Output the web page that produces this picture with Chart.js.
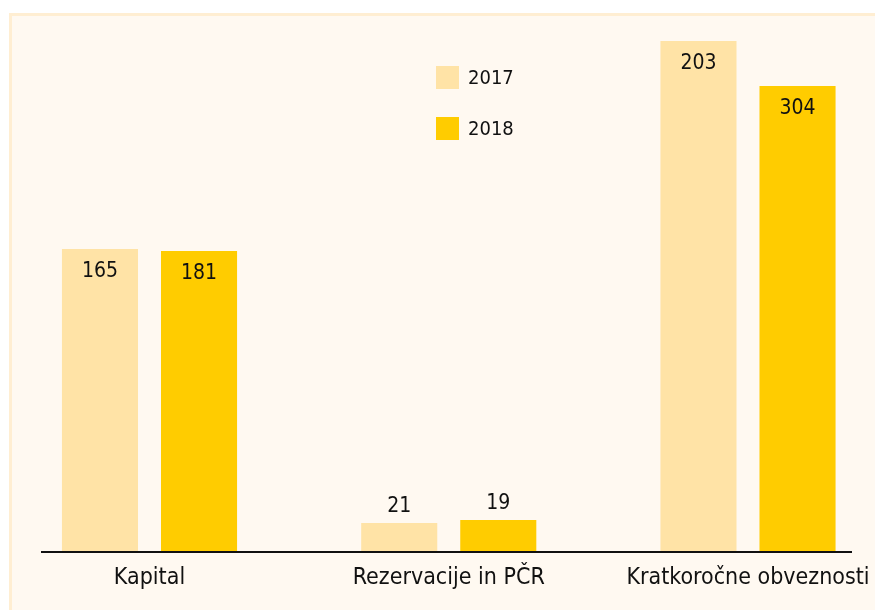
<!DOCTYPE html>
<html>
<head>
<meta charset="utf-8">
<script src="https://cdn.jsdelivr.net/npm/chart.js@4/dist/chart.umd.min.js"></script>
<style>
  body { margin: 0; background: #ffffff; }
  #chart { display: block; }
</style>
</head>
<body>
<canvas id="chart" width="875" height="610"></canvas>
<script>
const categories = ["Kapital", "Rezervacije in PČR", "Kratkoročne obveznosti"];
const seriesNames = ["2017", "2018"];
// numbers printed on the bars
const printed2017 = [165, 21, 203];
const printed2018 = [181, 19, 304];
// bar lengths as drawn in the source (they do not follow the printed numbers)
const length2017 = [302, 28, 510];
const length2018 = [300, 31, 465];
const printedValues = [printed2017, printed2018];

const FONT = "'DejaVu Sans Condensed', 'Liberation Sans Narrow', sans-serif";

// cream panel behind the chart
const panel = {
    id: 'panel',
    beforeDraw(chart) {
        const ctx = chart.ctx;
        ctx.save();
        ctx.fillStyle = '#fff9f1';
        ctx.fillRect(9, 13, chart.width - 9, chart.height - 13);
        ctx.fillStyle = '#ffeed2';
        ctx.fillRect(9, 13, chart.width - 9, 3);
        ctx.fillRect(9, 13, 3, chart.height - 13);
        ctx.restore();
    }
};

// baseline, value labels and legend
const extras = {
    id: 'extras',
    afterDatasetsDraw(chart) {
        const ctx = chart.ctx;
        const y0 = chart.scales.y.getPixelForValue(0);
        ctx.save();
        ctx.fillStyle = '#111111';
        ctx.fillRect(41, y0, 811, 2);

        ctx.font = '21px ' + FONT;
        ctx.textAlign = 'center';
        ctx.textBaseline = 'middle';
        chart.data.datasets.forEach((ds, di) => {
            chart.getDatasetMeta(di).data.forEach((bar, i) => {
                const h = bar.base - bar.y;
                const ty = h > 60 ? bar.y + 23 : bar.y - 16;
                ctx.fillText(String(printedValues[di][i]), bar.x, ty);
            });
        });

        ctx.font = '20px ' + FONT;
        ctx.textAlign = 'left';
        chart.data.datasets.forEach((ds, di) => {
            const top = 66 + di * 51;
            ctx.fillStyle = ds.backgroundColor;
            ctx.fillRect(436, top, 23, 23);
            ctx.fillStyle = '#111111';
            ctx.fillText(ds.label, 468, top + 13);
        });
        ctx.restore();
    }
};

const config = {
    type: 'bar',
    data: {
        labels: categories,
        datasets: [{
            label: seriesNames[0],
            data: length2017,
            backgroundColor: '#ffe3a6',
            clip: false
        }, {
            label: seriesNames[1],
            data: length2018,
            backgroundColor: '#ffcc00',
            clip: false
        }]
    },
    options: {
        responsive: false,
        animation: false,
        categoryPercentage: 0.662,
        barPercentage: 0.768,
        layout: {
            padding: { left: 149.5, right: 127, top: 41, bottom: 16 }
        },
        plugins: {
            legend: { display: false },
            tooltip: { enabled: false }
        },
        scales: {
            x: {
                offset: false,
                grid: { display: false, drawTicks: false },
                border: { display: false },
                afterFit(scale) {
                    scale.height = 43;
                    scale.paddingLeft = 0;
                    scale.paddingRight = 0;
                },
                ticks: {
                    color: '#111111',
                    padding: 13,
                    maxRotation: 0,
                    autoSkip: false,
                    font: { family: FONT, size: 23 }
                }
            },
            y: {
                display: false,
                min: 0,
                max: 510
            }
        }
    },
    plugins: [panel, extras]
};

var chart = new Chart(
    document.getElementById('chart'),
    config
);
</script>
</body>
</html>
